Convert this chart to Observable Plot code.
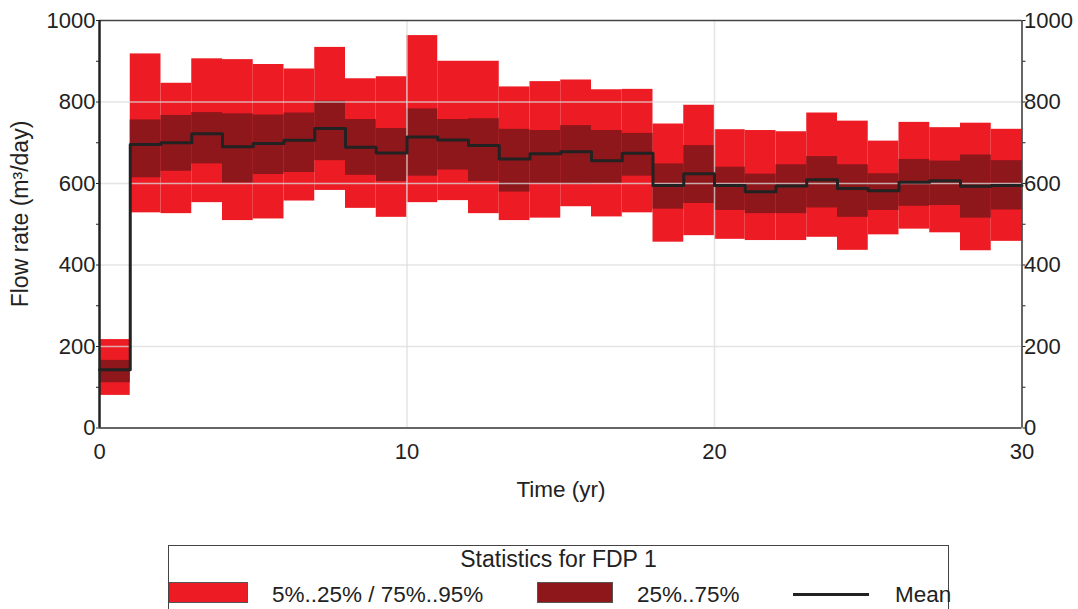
<!DOCTYPE html>
<html>
<head>
<meta charset="utf-8">
<script src="https://cdn.jsdelivr.net/npm/d3@7"></script>
<script src="https://cdn.jsdelivr.net/npm/@observablehq/plot@0.6"></script>
<style>
  html, body { margin: 0; padding: 0; background: #fff; }
  body { position: relative; width: 1078px; height: 609px; overflow: hidden; font-family: "Liberation Sans", Arial, sans-serif; }
  #legend { position: absolute; left: 168px; top: 545px; width: 781px; height: 80px; border: 1px solid #444; border-bottom: none; box-sizing: border-box; color: #222; font-size: 22.5px; }
  #legend .title { position: absolute; left: 0; right: 0; top: 0px; text-align: center; font-size: 23px; }
  #legend .sw { position: absolute; top: 36px; height: 21px; box-sizing: border-box; border: 1px solid #555; }
  #legend .lbl { position: absolute; top: 36px; white-space: nowrap; }
  #legend .ln { position: absolute; top: 47px; height: 3px; background: #222; }
</style>
</head>
<body>
<div id="chart"></div>
<div id="legend">
  <div class="title">Statistics for FDP 1</div>
  <div class="sw" style="left:0px;width:79px;background:#ed1c24"></div>
  <div class="lbl" style="left:103px">5%..25% / 75%..95%</div>
  <div class="sw" style="left:368px;width:76px;background:#8e171b"></div>
  <div class="lbl" style="left:468px">25%..75%</div>
  <div class="ln" style="left:624px;width:76px"></div>
  <div class="lbl" style="left:726px">Mean</div>
</div>
<script>
const years = [0,1,2,3,4,5,6,7,8,9,10,11,12,13,14,15,16,17,18,19,20,21,22,23,24,25,26,27,28,29];
const p5   = [80,528,526,553,509,513,557,583,539,517,553,558,526,509,515,543,518,528,456,472,463,460,460,468,436,474,488,479,435,458];
const p25  = [111,614,630,648,601,622,627,656,620,605,618,633,605,579,599,598,600,618,537,551,534,526,526,540,517,534,544,546,515,535];
const mean = [143,696,700,722,690,698,706,735,689,675,714,707,693,660,673,678,656,674,595,624,595,580,594,609,588,582,603,607,593,595];
const p75  = [166,756,767,774,771,768,773,802,757,735,783,757,759,733,730,742,730,723,648,693,640,623,646,666,646,624,659,655,670,656];
const p95  = [217,918,846,906,904,892,881,934,857,862,963,900,900,837,850,854,830,831,746,792,732,730,727,773,753,704,750,737,748,733];
const binWidth = 1;
const xTicks = [0,10,20,30];
const yTicks = [0,200,400,600,800,1000];
const yMinor = [100,300,500,700,900];

const rows = years.map((t, i) => ({t0: t, t1: t + binWidth, p5: p5[i], p25: p25[i], mean: mean[i], p75: p75[i], p95: p95[i]}));
const meanLine = rows.map(d => ({t: d.t0, v: d.mean}));
meanLine.push({t: rows[rows.length - 1].t1, v: rows[rows.length - 1].mean});

const RED = "#ed1c24", DARK = "#8e171b", INK = "#222";
const FS = 22;

const chart = Plot.plot({
  width: 1078,
  height: 510,
  marginLeft: 99,
  marginRight: 56.5,
  marginTop: 20,
  marginBottom: 82.5,
  style: {fontFamily: "Liberation Sans, Arial, sans-serif", fontSize: FS + "px", color: INK, background: "#fff"},
  x: {domain: [0, 30], label: null},
  y: {domain: [0, 1000], label: null},
  marks: [
    Plot.rectY(rows, {x1: "t0", x2: "t1", y1: "p5", y2: "p95", fill: RED}),
    Plot.rectY(rows, {x1: "t0", x2: "t1", y1: "p25", y2: "p75", fill: DARK}),
    Plot.gridX({ticks: [10, 20], stroke: "#dcdcdc", strokeOpacity: 0.75, strokeWidth: 1.5}),
    Plot.gridY({ticks: [200, 400, 600, 800], stroke: "#dcdcdc", strokeOpacity: 0.75, strokeWidth: 1.5}),
    Plot.line(meanLine, {x: "t", y: "v", curve: "step-after", stroke: INK, strokeWidth: 3}),
    Plot.ruleY([1000], {stroke: "#444", strokeWidth: 1.5}),
    Plot.ruleY([0], {stroke: "#333", strokeWidth: 1.5}),
    Plot.ruleX([30], {stroke: "#333", strokeWidth: 1.5}),
    Plot.ruleX([0], {stroke: INK, strokeWidth: 2.5}),
    Plot.axisY({anchor: "left", ticks: yTicks.concat(yMinor), tickSize: 3, tickFormat: () => "", stroke: INK}),
    Plot.axisY({anchor: "right", ticks: yTicks.concat(yMinor), tickSize: 3, tickFormat: () => "", stroke: INK}),
    Plot.axisY({anchor: "left", ticks: yTicks, tickFormat: d3.format("d"), tickSize: 0, tickPadding: 4, fill: INK, fontSize: FS}),
    Plot.axisY({anchor: "right", ticks: yTicks, tickFormat: d3.format("d"), tickSize: 0, tickPadding: 2, fill: INK, fontSize: FS}),
    Plot.axisX({anchor: "bottom", ticks: xTicks, tickFormat: d3.format("d"), tickSize: 0, tickPadding: 15, fill: INK, fontSize: FS})
  ]
});

const svg = d3.select(chart);
svg.append("text")
  .attr("x", 561).attr("y", 491).attr("text-anchor", "middle").attr("dominant-baseline", "middle")
  .attr("font-size", 22.5).attr("fill", INK).text("Time (yr)");
svg.append("text")
  .attr("transform", "translate(22,214) rotate(-90)").attr("text-anchor", "middle").attr("dominant-baseline", "middle")
  .attr("font-size", 23).attr("fill", INK).text("Flow rate (m³/day)");

document.getElementById("chart").appendChild(chart);
</script>
</body>
</html>
